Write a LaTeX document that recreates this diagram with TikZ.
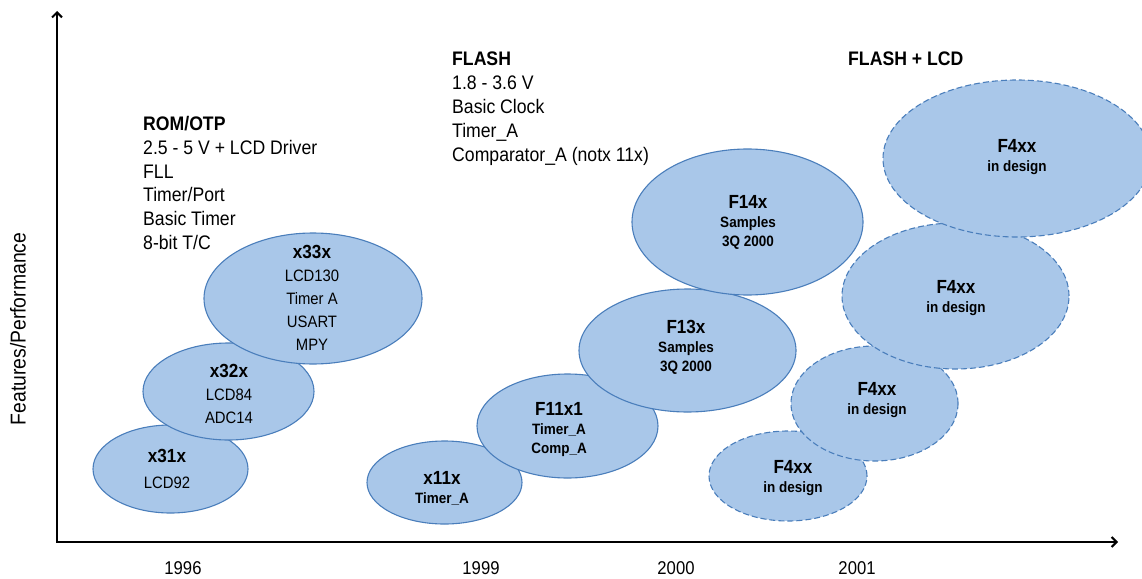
\documentclass[tikz,border=0pt]{standalone}
\usepackage{fontspec}
\setmainfont{Liberation Sans}[FakeStretch=0.9]
\usetikzlibrary{shapes.geometric,arrows.meta}
\definecolor{chipfill}{RGB}{169,199,233}
\definecolor{chipedge}{RGB}{74,126,187}
\tikzset{
  chip/.style={ellipse, draw=chipedge, fill=chipfill, line width=1.1pt, inner sep=0pt},
  plan/.style={chip, dash pattern=on 6pt off 3pt},
  axis/.style={line width=2pt, -{Straight Barb[length=5pt,width=10pt]}},
  head/.style={anchor=north west, inner sep=0pt, align=left, font=\fontsize{19.6}{23.8}\selectfont},
  year/.style={font=\fontsize{18.5}{20}\selectfont},
  oldtxt/.style={align=center, inner sep=0pt, font=\fontsize{16.5}{23}\selectfont},
  newtxt/.style={align=center, inner sep=0pt, font=\bfseries\fontsize{15}{19}\selectfont},
}
\newcommand{\chiptitle}[1]{{\bfseries\fontsize{19}{23}\selectfont #1}}
\begin{document}
\begin{tikzpicture}[x=1pt,y=-1pt]
\clip (0,0) rectangle (1142,578);
\fill[white] (0,0) rectangle (1142,578);

% axes
\coordinate (O) at (57,542);
\coordinate (Ytop) at (57,11);
\coordinate (Xend) at (1118,542);
\draw[axis] (O) -- (Ytop);
\draw[axis] ([xshift=-1pt]O) -- (Xend);

\node[rotate=90, font=\fontsize{21.5}{22}\selectfont] (ylab) at (18,329) {Features/Performance};

\node[year] (y1996) at (183,568) {1996};
\node[year] (y1999) at (481,568) {1999};
\node[year] (y2000) at (676,568) {2000};
\node[year] (y2001) at (857,568) {2001};

% headers
\node[head] (romotp) at (143,116) {\textbf{ROM/OTP}\\2.5 - 5 V + LCD Driver\\FLL\\Timer/Port\\Basic Timer\\8-bit T/C};
\node[head] (flash) at (452,52) {\textbf{FLASH}\\1.8 - 3.6 V\\Basic Clock\\Timer\_A\\Comparator\_A (notx 11x)};
\node[head] (flashlcd) at (848,52) {\textbf{FLASH + LCD}};

% ROM/OTP family
\node[chip, minimum width=155pt, minimum height=88pt] (x31) at (170.5,469) {};
\node[oldtxt] (x31t) at (167,469) {\chiptitle{x31x}\\[3pt]LCD92};
\node[chip, minimum width=171pt, minimum height=97pt] (x32) at (228.5,391.5) {};
\node[oldtxt] (x32t) at (229,394) {\chiptitle{x32x}\\LCD84\\ADC14};
\node[chip, minimum width=218pt, minimum height=131pt] (x33) at (313,298.5) {};
\node[oldtxt] (x33t) at (312,297.5) {\chiptitle{x33x}\\LCD130\\Timer A\\USART\\MPY};

% FLASH family
\node[chip, minimum width=155pt, minimum height=83pt] (x11) at (444.5,482.5) {};
\node[newtxt] (x11t) at (442,488) {\chiptitle{x11x}\\Timer\_A};
\node[chip, minimum width=181pt, minimum height=104pt] (f11) at (567.5,426) {};
\node[newtxt] (f11t) at (559,430) {\chiptitle{F11x1}\\Timer\_A\\Comp\_A};
\node[chip, minimum width=217pt, minimum height=123pt] (f13) at (687.5,350.5) {};
\node[newtxt] (f13t) at (686,347.5) {\chiptitle{F13x}\\Samples\\3Q 2000};
\node[chip, minimum width=231pt, minimum height=146pt] (f14) at (747.5,222) {};
\node[newtxt] (f14t) at (748,222.5) {\chiptitle{F14x}\\Samples\\3Q 2000};

% FLASH + LCD family
\node[plan, minimum width=158pt, minimum height=90pt] (f4a) at (788,476) {};
\node[newtxt] (f4at) at (793,478) {\chiptitle{F4xx}\\in design};
\node[plan, minimum width=167pt, minimum height=115pt] (f4b) at (874.5,403.5) {};
\node[newtxt] (f4bt) at (877,400) {\chiptitle{F4xx}\\in design};
\node[plan, minimum width=227pt, minimum height=146pt] (f4c) at (955.5,296) {};
\node[newtxt] (f4ct) at (956,298.5) {\chiptitle{F4xx}\\in design};
\node[plan, minimum width=268pt, minimum height=157pt] (f4d) at (1017,158.5) {};
\node[newtxt] (f4dt) at (1017,157.5) {\chiptitle{F4xx}\\in design};
\end{tikzpicture}
\end{document}
